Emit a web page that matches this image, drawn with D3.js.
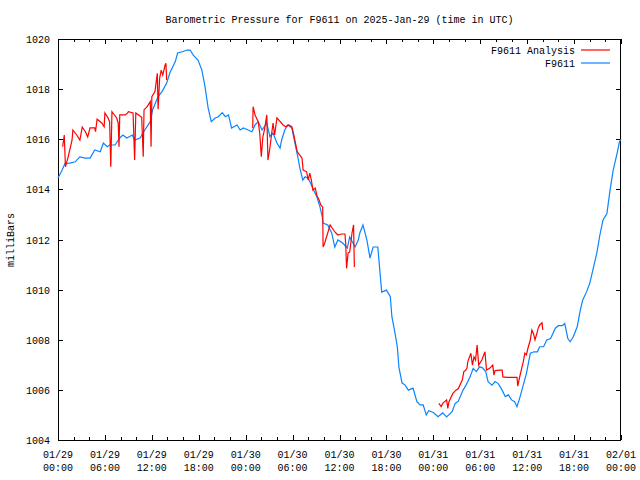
<!DOCTYPE html>
<html><head><meta charset="utf-8">
<script src="https://cdn.jsdelivr.net/npm/d3@7"></script>
<style>
body{margin:0;background:#fff;}
text{font-family:"Liberation Mono","DejaVu Sans Mono",monospace;font-size:10px;fill:#000;}
</style></head>
<body><svg id="c" width="640" height="480"></svg>
<script>
// hours since 2025-01-29 00:00 UTC
const stationHours = [0.0,0.5,0.9,1.5,2.2,2.8,3.5,4.1,4.7,5.4,5.8,6.3,6.6,7.3,7.9,8.3,8.8,9.5,9.8,10.5,11.1,11.8,12.1,12.8,13.3,13.9,14.3,15.0,15.3,16.0,16.5,16.9,17.3,17.9,18.4,18.8,19.2,19.6,20.1,20.5,21.0,21.4,21.8,22.2,22.9,23.3,23.7,24.3,24.8,25.2,25.6,26.1,26.7,27.1,27.5,28.0,28.4,28.6,29.0,29.4,29.9,30.3,30.7,30.9,31.3,31.6,32.0,32.5,33.1,33.5,33.8,33.9,34.5,35.0,35.4,35.8,36.4,37.0,37.3,38.0,38.4,38.6,39.0,39.5,39.9,40.3,40.9,41.2,41.4,42.0,42.5,42.7,43.1,43.4,43.6,44.0,44.4,44.8,45.4,45.9,46.3,46.7,47.1,47.4,48.0,48.6,49.2,49.7,50.4,50.8,51.2,51.8,52.2,52.7,53.1,53.5,53.9,54.3,54.7,55.0,55.5,55.9,56.3,56.8,57.2,57.6,58.0,58.4,58.7,59.1,59.5,59.9,60.4,60.9,61.3,61.6,62.1,62.5,63.0,63.6,64.0,64.5,64.8,65.2,65.5,65.9,66.4,66.8,67.1,67.6,68.0,68.4,68.9,69.3,69.7,70.2,70.6,71.0,71.5,71.8,72.0];
const stationValues = [1014.45,1014.75,1015.04,1015.05,1015.1,1015.3,1015.25,1015.25,1015.57,1015.5,1015.85,1015.7,1015.77,1015.77,1016.05,1016.17,1016.05,1016.17,1015.97,1016.05,1016.37,1016.7,1017.17,1017.7,1017.9,1018.24,1018.64,1019.1,1019.44,1019.5,1019.56,1019.56,1019.36,1019.16,1018.76,1018.1,1017.25,1016.7,1016.85,1016.9,1017.06,1016.9,1016.97,1016.45,1016.57,1016.37,1016.45,1016.37,1016.3,1016.57,1016.7,1016.37,1016.65,1016.1,1016.25,1015.85,1015.65,1015.97,1016.37,1016.57,1016.45,1015.85,1015.25,1014.9,1014.37,1014.5,1014.45,1014.1,1013.7,1013.3,1012.9,1012.66,1012.58,1012.26,1011.7,1011.98,1011.86,1011.66,1012.1,1011.7,1011.98,1012.26,1012.58,1011.98,1011.26,1011.7,1011.7,1010.6,1009.9,1009.98,1009.72,1008.92,1008.26,1007.7,1006.9,1006.27,1006.19,1005.99,1006.07,1005.53,1005.4,1005.4,1005.0,1005.17,1005.1,1004.93,1005.08,1004.92,1005.13,1005.46,1005.55,1005.99,1006.2,1006.52,1006.86,1006.73,1006.92,1006.88,1006.73,1006.33,1006.19,1006.33,1006.25,1005.99,1005.73,1005.8,1005.6,1005.53,1005.33,1005.73,1006.19,1006.65,1007.46,1007.52,1007.52,1007.72,1007.72,1007.99,1008.05,1008.46,1008.56,1008.56,1008.65,1008.05,1007.92,1008.12,1008.52,1009.19,1009.58,1009.92,1010.25,1010.78,1011.45,1012.18,1012.78,1013.04,1013.97,1014.77,1015.44,1015.9,1016.0];

const analysis1Hours = [0.6,0.8,0.95,1.3,1.8,1.9,2.4,2.8,3.1,3.5,3.8,4.1,4.7,4.8,5.0,5.6,5.9,6.0,6.4,6.6,6.75,6.9,7.5,7.7,7.8,7.9,8.6,8.9,9.0,9.6,9.8,9.95,10.3,10.7,10.9,11.0,11.4,11.8,11.9,12.0,12.4,12.7,12.8,13.0,13.2,13.4,13.7,13.8,13.9];
const analysis1Values = [1015.7,1016.17,1014.9,1015.3,1015.97,1016.37,1016.17,1015.97,1016.49,1016.3,1016.09,1016.45,1016.45,1016.3,1016.8,1016.65,1016.5,1017.05,1016.85,1016.7,1014.9,1017.1,1016.85,1016.65,1015.7,1016.97,1016.97,1017.05,1017.1,1017.05,1015.17,1017.05,1016.97,1016.88,1015.3,1017.17,1017.3,1017.5,1015.7,1017.7,1017.9,1018.63,1017.2,1018.44,1018.76,1018.56,1018.96,1019.03,1018.36];
const analysis2Hours = [24.9,24.95,25.2,25.6,25.8,26.0,26.2,26.4,26.7,26.85,27.1,27.3,27.5,27.7,28.0,28.8,29.1,29.5,29.9,30.1,30.6,31.2,31.35,31.8,32.0,32.2,32.4,32.6,32.9,33.1,33.4,33.6,33.85,33.9,34.1,34.8,35.4,35.8,36.3,36.7,36.8,36.9,37.1,37.3,37.6,37.8,37.9];
const analysis2Values = [1016.45,1017.3,1016.97,1016.7,1016.25,1015.3,1016.1,1016.37,1016.97,1015.17,1015.65,1016.17,1016.65,1016.17,1016.85,1016.57,1016.5,1016.57,1016.5,1016.25,1015.5,1015.25,1014.77,1014.7,1014.37,1014.65,1014.37,1013.97,1014.05,1013.77,1013.57,1013.38,1013.3,1011.7,1011.85,1012.58,1012.3,1012.18,1012.22,1012.22,1011.8,1010.85,1011.46,1011.5,1012.26,1012.58,1010.9];
const analysis3Hours = [48.7,49.0,49.2,49.7,49.85,50.0,50.5,50.9,51.2,51.7,51.9,52.1,52.3,52.4,52.8,53.0,53.2,53.4,53.6,53.8,54.2,54.6,54.8,55.2,55.6,55.75,55.9,56.5,56.8,56.9,57.4,58.7,58.8,59.0,59.3,59.5,59.7,59.9,60.1,60.4,60.6,60.8,61.0,61.3,61.4,61.6,61.9,62.0];
const analysis3Values = [1005.46,1005.33,1005.46,1005.6,1005.26,1005.53,1005.86,1005.99,1006.05,1006.39,1006.73,1006.77,1006.86,1007.12,1007.46,1006.99,1007.32,1007.19,1007.79,1006.99,1007.19,1007.52,1006.79,1006.86,1006.99,1006.59,1006.77,1006.79,1006.79,1006.52,1006.5,1006.5,1006.15,1006.46,1006.86,1007.12,1007.46,1007.4,1007.66,1007.99,1008.39,1008.25,1007.99,1008.32,1008.45,1008.59,1008.68,1008.39];

const yTicks = [1004,1006,1008,1010,1012,1014,1016,1018,1020];
const seriesNames = ["F9611 Analysis","F9611"];
const titleText = "Barometric Pressure for F9611 on 2025-Jan-29 (time in UTC)";

const start = Date.UTC(2025,0,29,0,0);
const toDate = h => new Date(start + h*3600000);

const svg = d3.select("#c");
const L=58, R=621, T=39, B=440;
const x = d3.scaleUtc().domain([toDate(0), toDate(72)]).range([L,R]);
const y = d3.scaleLinear().domain([1004,1020]).range([B,T]);

// axes
const majorX = d3.range(0,73,6).map(toDate);
const minorX = d3.range(0,73,2).filter(h=>h%6!==0).map(toDate);
const fmtD = d3.utcFormat("%m/%d"), fmtT = d3.utcFormat("%H:%M");

function addAxis(axis, tr){
  const g = svg.append("g").attr("transform",tr).call(axis);
  g.select(".domain").remove();
  g.selectAll("line").attr("stroke","#000").attr("shape-rendering","crispEdges");
  return g;
}
// bottom
const gb = addAxis(d3.axisBottom(x).tickValues(majorX).tickSize(-5).tickFormat(""), `translate(0,${B})`);
addAxis(d3.axisBottom(x).tickValues(minorX).tickSize(-3).tickFormat(""), `translate(0,${B})`);
addAxis(d3.axisTop(x).tickValues(majorX).tickSize(-5).tickFormat(""), `translate(0,${T})`);
addAxis(d3.axisTop(x).tickValues(minorX).tickSize(-3).tickFormat(""), `translate(0,${T})`);
addAxis(d3.axisLeft(y).tickValues(yTicks).tickSize(-5).tickFormat(""), `translate(${L},0)`);
addAxis(d3.axisRight(y).tickValues(yTicks).tickSize(-5).tickFormat(""), `translate(${R},0)`);

// x labels
const xl = svg.append("g");
majorX.forEach(d=>{
  const t = xl.append("text").attr("x",x(d)).attr("text-anchor","middle");
  t.append("tspan").attr("x",x(d)).attr("y",458).text(fmtD(d));
  t.append("tspan").attr("x",x(d)).attr("y",471).text(fmtT(d));
});
// y labels
svg.append("g").selectAll("text").data(yTicks).join("text")
  .attr("x",L-8).attr("y",d=>y(d)+4).attr("text-anchor","end").text(d=>d);

// border
svg.append("rect").attr("x",L+0.5).attr("y",T+0.5).attr("width",R-L-1).attr("height",B-T)
  .attr("fill","none").attr("stroke","#000").attr("stroke-width",1);

const line = d3.line().x(d=>x(toDate(d[0]))).y(d=>y(d[1]));
const zip = (a,b)=>a.map((v,i)=>[v,b[i]]);
const RED="#ff0000", BLUE="#0a84ff";

svg.append("path").datum(zip(stationHours,stationValues)).attr("d",line)
  .attr("fill","none").attr("stroke",BLUE).attr("stroke-width",1.2);
[[analysis1Hours,analysis1Values],[analysis2Hours,analysis2Values],[analysis3Hours,analysis3Values]].forEach(([h,v])=>{
  svg.append("path").datum(zip(h,v)).attr("d",line)
    .attr("fill","none").attr("stroke",RED).attr("stroke-width",1.2);
});

// title
svg.append("text").attr("x",(L+R)/2).attr("y",23).attr("text-anchor","middle").text(titleText);
// y title
svg.append("text").attr("transform","translate(14,240) rotate(-90)").attr("text-anchor","middle").text("milliBars");

// legend
const leg = [[seriesNames[0],RED,50],[seriesNames[1],BLUE,63]];
leg.forEach(([n,c,yy])=>{
  svg.append("text").attr("x",575).attr("y",yy+4).attr("text-anchor","end").text(n);
  svg.append("line").attr("x1",581).attr("x2",610).attr("y1",yy).attr("y2",yy)
    .attr("stroke",c).attr("stroke-width",1.2);
});
</script></body></html>
